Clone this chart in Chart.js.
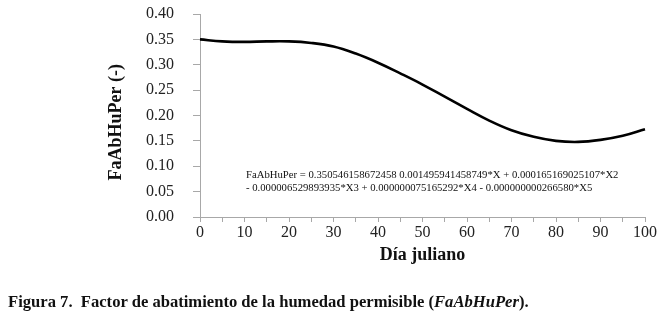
<!DOCTYPE html>
<html>
<head>
<meta charset="utf-8">
<script src="https://cdn.jsdelivr.net/npm/chart.js@4"></script>
<style>
  html, body { margin: 0; padding: 0; background: #fff; }
  #wrap { position: relative; width: 660px; height: 319px; overflow: hidden; }
  #c { position: absolute; left: 0; top: 0; }
  #eq { position: absolute; left: 246px; top: 168px; font: 10.7px 'Liberation Serif', serif; line-height: 13px; white-space: nowrap; color: #111; }
  #cap { position: absolute; left: 8px; top: 292px; font: bold 16.6px 'Liberation Serif', serif; white-space: nowrap; color: #111; }
</style>
</head>
<body>
<div id="wrap">
  <canvas id="c" width="660" height="319"></canvas>
  <div id="eq">FaAbHuPer = 0.350546158672458 0.001495941458749*X + 0.000165169025107*X2<br>- 0.000006529893935*X3 + 0.000000075165292*X4 - 0.000000000266580*X5</div>
  <div id="cap">Figura 7.&nbsp; Factor de abatimiento de la humedad permisible (<i>FaAbHuPer</i>).</div>
</div>
<script>
const days = [0, 5, 10, 15, 20, 25, 30, 35, 40, 45, 50, 55, 60, 65, 70, 75, 80, 85, 90, 95, 100];
const faValues = [0.350, 0.346, 0.345, 0.346, 0.346, 0.343, 0.336, 0.322, 0.304, 0.283, 0.261, 0.237, 0.213, 0.190, 0.171, 0.158, 0.150, 0.148, 0.152, 0.160, 0.173];
const xTitle = 'Día juliano';
const yTitle = 'FaAbHuPer (-)';

const axisColor = '#a8a8a8';
const tickFont = { family: "'Liberation Serif', serif", size: 16 };
const titleFont = { family: "'Liberation Serif', serif", size: 18, weight: 'bold' };

new Chart(document.getElementById('c'), {
  type: 'line',
  data: {
    datasets: [{
      data: days.map((d, i) => ({ x: d, y: faValues[i] })),
      borderColor: '#000',
      borderWidth: 2.6,
      pointRadius: 0,
      tension: 0.4,
      fill: false,
      clip: false
    }]
  },
  options: {
    responsive: false,
    animation: false,
    devicePixelRatio: 1,
    layout: { padding: { top: 14, right: 15, bottom: 42, left: 0 } },
    plugins: { legend: { display: false }, tooltip: { enabled: false } },
    scales: {
      x: {
        type: 'linear', min: 0, max: 100,
        border: { display: true, color: axisColor, width: 1 },
        grid: { drawOnChartArea: false, drawTicks: true, tickLength: 5, color: axisColor },
        ticks: {
          stepSize: 5, autoSkip: false, maxRotation: 0, padding: 1,
          color: '#222', font: tickFont,
          callback: v => (v % 10 === 0 ? String(v) : '')
        },
        title: { display: true, text: xTitle, color: '#111', font: titleFont, padding: { top: 0, bottom: 11 } },
        afterFit: s => { s.height = 60; }
      },
      y: {
        min: 0, max: 0.4,
        border: { display: true, color: axisColor, width: 1 },
        grid: { drawOnChartArea: false, drawTicks: true, tickLength: 7, color: axisColor },
        ticks: {
          stepSize: 0.05, padding: 19, color: '#222', font: tickFont,
          callback: v => v.toFixed(2)
        },
        title: { display: true, text: yTitle + '   ', color: '#111', font: titleFont, padding: { top: 106, bottom: 0 } },
        afterFit: s => { s.width = 200; s.paddingTop = 0; s.paddingBottom = 0; }
      }
    }
  }
});
</script>
</body>
</html>
